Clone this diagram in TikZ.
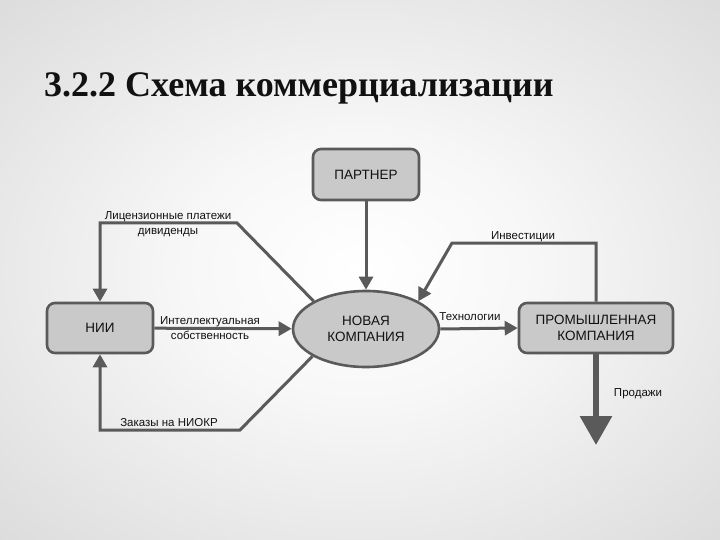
\documentclass[tikz,border=0pt]{standalone}
\usepackage{fontspec}
\setmainfont{Liberation Sans}
\newfontfamily\titlefont{Liberation Serif}
\usetikzlibrary{arrows.meta,shapes.geometric}
\definecolor{ln}{HTML}{5A5A5A}
\definecolor{nf}{HTML}{C9C9C9}
\definecolor{tx}{HTML}{111111}
\pgfdeclareradialshading{bgshade}{\pgfpoint{0bp}{0bp}}{color(0bp)=(white); color(12bp)=(white!97!black); color(45bp)=(black!18); color(80bp)=(black!22)}
\begin{document}
\begin{tikzpicture}[x=1pt,y=-1pt,
  box/.style={draw=ln, line width=2.6pt, fill=nf, rounded corners=8pt, align=center, text=tx, font=\fontsize{13.5}{15.5}\selectfont, inner sep=0pt},
  oval/.style={ellipse, draw=ln, line width=2.6pt, fill=nf, align=center, text=tx, font=\fontsize{13.5}{15.5}\selectfont, inner sep=0pt},
  conn/.style={draw=ln, line width=3pt, -{Triangle[width=14pt,length=13pt]}},
  lbl/.style={align=center, text=tx, inner sep=0pt, font=\fontsize{11.5}{14.5}\selectfont}]
\useasboundingbox (0,0) rectangle (720,540);
\shade[shading=bgshade] (0,0) rectangle (720,540);
\node[anchor=base west, inner sep=0pt, text=tx, font=\titlefont\bfseries\fontsize{36}{40}\selectfont] (title) at (44,97) {3.2.2 Схема коммерциализации};
% nodes
\node[box, minimum width=106pt, minimum height=51pt] (p) at (366,174.5) {ПАРТНЕР};
\node[box, minimum width=106pt, minimum height=50pt] (nii) at (100,328) {НИИ};
\node[oval, minimum width=146pt, minimum height=76pt] (nk) at (366,329) {НОВАЯ\\КОМПАНИЯ};
\node[box, minimum width=154pt, minimum height=50pt] (pk) at (596,328) {ПРОМЫШЛЕННАЯ\\КОМПАНИЯ};
% bend points
\coordinate (l1) at (237,223);
\coordinate (l2) at (100,223);
\coordinate (i1) at (452,243);
\coordinate (z1) at (240,430);
\coordinate (z2) at (100,430);
\coordinate (s1) at (596,445);
% connectors
\draw[conn] (p) -- (nk);
\draw[conn] (nk.152) -- (l1) -- (l2) -- (nii.north);
\draw[conn] (pk.north) -- (pk.north |- i1) -- (i1) -- (nk.28);
\draw[conn] (nii) -- (nk);
\draw[conn] (nk.east) -- (pk.west);
\draw[conn] (nk.207) -- (z1) -- (z2) -- (nii.south);
\draw[draw=ln, line width=6pt, -{Triangle[width=31pt,length=29pt]}] (pk.south) -- (s1);
% labels
\node[lbl] (t1) at (168,224) {Лицензионные платежи\\дивиденды};
\node[lbl] (t2) at (523,237) {Инвестиции};
\node[lbl] (t3) at (210,328) {Интеллектуальная\\собственность};
\node[lbl] (t4) at (470,317) {Технологии};
\node[lbl] (t5) at (638,394) {Продажи};
\node[lbl] (t6) at (169,423) {Заказы на НИОКР};
\end{tikzpicture}
\end{document}
